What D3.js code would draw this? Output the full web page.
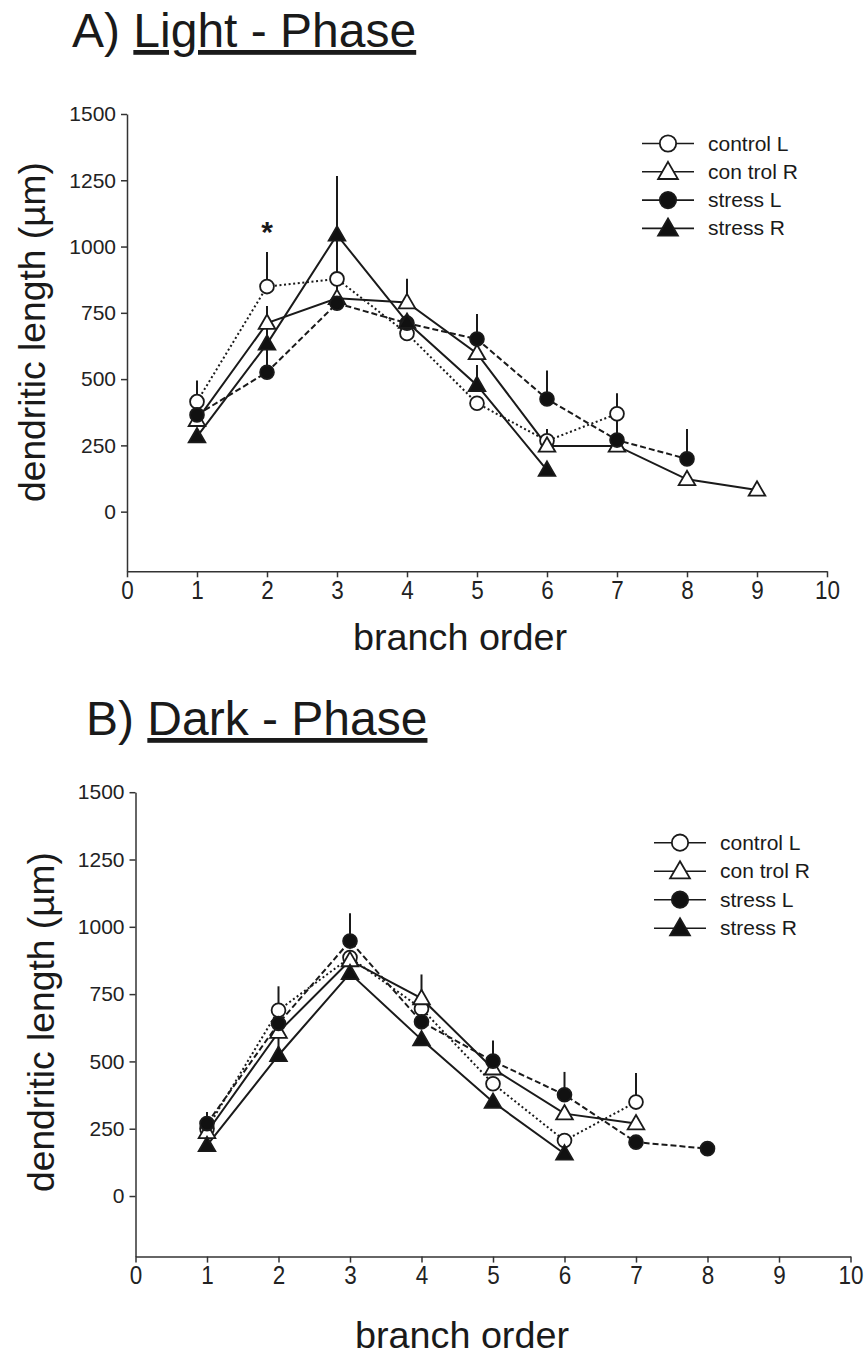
<!DOCTYPE html>
<html><head><meta charset="utf-8">
<script src="https://cdn.jsdelivr.net/npm/d3@7"></script>
<style>
html,body{margin:0;padding:0;background:#fff;}
svg{display:block;font-family:"Liberation Sans",Arial,sans-serif;}
</style></head>
<body>
<svg id="chart" width="868" height="1360"></svg>
<script>
// ---------- data ----------
const branchOrderTicks = [0,1,2,3,4,5,6,7,8,9,10];
const lengthTicks = [0,250,500,750,1000,1250,1500];
const seriesNames = ["control L","con trol R","stress L","stress R"];

// A) Light - Phase  (mean, upper SEM) for branch order 1..n
const lightControlL    = [415, 849, 878, 672, 409, 267, 369];
const lightControlLErr = [80, 130, 170, 0, 0, 45, 78];
const lightControlR    = [345, 711, 805, 789, 597, 248, 248, 122, 82];
const lightControlRErr = [0, 65, 0, 90, 0, 0, 0, 0, 0];
const lightStressL     = [365, 526, 786, 711, 651, 425, 270, 199];
const lightStressLErr  = [0, 100, 100, 0, 95, 107, 75, 113];
const lightStressR     = [283, 633, 1044, 715, 477, 157];
const lightStressRErr  = [0, 80, 222, 0, 76, 0];
const lightSignificance = [{order: 2, value: 1080, label: "*"}];

// B) Dark - Phase
const darkControlL    = [250, 690, 886, 696, 417, 206, 349];
const darkControlLErr = [0, 89, 0, 0, 0, 0, 108];
const darkControlR    = [237, 609, 875, 734, 473, 306, 269];
const darkControlRErr = [0, 0, 0, 89, 0, 0, 0];
const darkStressL     = [269, 641, 947, 647, 501, 376, 200, 176];
const darkStressLErr  = [43, 0, 103, 0, 77, 85, 0, 0];
const darkStressR     = [188, 523, 827, 581, 349, 157];
const darkStressRErr  = [0, 75, 0, 0, 0, 0];
const darkSignificance = [];

// ---------- styles ----------
const seriesStyle = [
  {fill:"#fff", shape:d3.symbolCircle,   dash:"2,2.6"},
  {fill:"#fff", shape:d3.symbolTriangle, dash:null},
  {fill:"#111", shape:d3.symbolCircle,   dash:"6,3"},
  {fill:"#111", shape:d3.symbolTriangle, dash:null}
];
const ink = "#1a1a1a";

const svg = d3.select("#chart");

function buildSeries(vals, errs){
  return vals.map((v,i)=>({order:i+1, value:v, err:errs[i]}));
}

function drawPanel(cfg){
  const g = svg.append("g");
  const x = d3.scaleLinear().domain([0,10]).range([cfg.left, cfg.right]);
  const y = d3.scaleLinear().domain([-225,1500]).range([cfg.bottom, cfg.top]);

  // title
  const t = g.append("text").attr("x", cfg.titleX).attr("y", cfg.titleY)
    .attr("font-size", 48).attr("fill", ink);
  t.append("tspan").text(cfg.titlePrefix + " ");
  t.append("tspan").attr("text-decoration","underline").text(cfg.titleMain);

  // axes
  const yAxis = d3.axisLeft(y).tickValues(lengthTicks).tickFormat(d3.format("d"))
    .tickSize(6).tickSizeOuter(0).tickPadding(5);
  const yg = g.append("g").attr("transform",`translate(${cfg.left},0)`).call(yAxis);
  yg.selectAll("text").attr("font-size",21).attr("fill","#222").attr("font-family","Liberation Sans, Arial, sans-serif");
  const xAxis = d3.axisBottom(x).tickValues(branchOrderTicks).tickFormat(d3.format("d"))
    .tickSize(6).tickSizeOuter(0).tickPadding(4);
  const xg = g.append("g").attr("transform",`translate(0,${cfg.bottom})`).call(xAxis);
  xg.selectAll("text").attr("font-size",25).attr("fill","#222").attr("font-family","Liberation Sans, Arial, sans-serif")
    .attr("textLength", d => String(d).length*12.5).attr("lengthAdjust","spacingAndGlyphs");
  [yg,xg].forEach(a=>{
    a.selectAll("path,line").attr("stroke","#333").attr("stroke-width",1.5);
  });

  // axis labels
  g.append("text").attr("transform",`translate(${cfg.yLabelX},${cfg.yLabelY}) rotate(-90)`)
    .attr("text-anchor","middle").attr("font-size",36).attr("fill",ink)
    .attr("textLength",340).attr("lengthAdjust","spacingAndGlyphs")
    .text("dendritic length (µm)");
  g.append("text").attr("x",cfg.xLabelX).attr("y",cfg.xLabelY)
    .attr("text-anchor","middle").attr("font-size",37).attr("fill",ink)
    .attr("textLength",214).attr("lengthAdjust","spacingAndGlyphs")
    .text("branch order");

  const line = d3.line().x(d=>x(d.order)).y(d=>y(d.value));

  // lines
  cfg.series.forEach((s,i)=>{
    g.append("path").datum(s).attr("d",line).attr("fill","none")
      .attr("stroke",ink).attr("stroke-width",2)
      .attr("stroke-dasharray", seriesStyle[i].dash);
  });
  // error bars (upper only)
  cfg.series.forEach((s)=>{
    g.selectAll(null).data(s.filter(d=>d.err>0)).enter().append("line")
      .attr("x1",d=>x(d.order)).attr("x2",d=>x(d.order))
      .attr("y1",d=>y(d.value)).attr("y2",d=>y(d.value+d.err))
      .attr("stroke",ink).attr("stroke-width",2);
  });
  // markers
  cfg.series.forEach((s,i)=>{
    const st = seriesStyle[i];
    const size = st.shape===d3.symbolCircle ? 150 : 120;
    g.selectAll(null).data(s).enter().append("path")
      .attr("d", d3.symbol().type(st.shape).size(size))
      .attr("transform", d=>`translate(${x(d.order)},${y(d.value) + (st.shape===d3.symbolTriangle?1:0)})`)
      .attr("fill", st.fill).attr("stroke", ink).attr("stroke-width",1.8);
  });
  // significance
  g.selectAll(null).data(cfg.sig).enter().append("text")
    .attr("x",d=>x(d.order)).attr("y",d=>y(d.value)+17)
    .attr("text-anchor","middle").attr("font-size",30).attr("font-weight","bold").attr("fill",ink)
    .text(d=>d.label);

  // legend
  seriesNames.forEach((name,i)=>{
    const st = seriesStyle[i];
    const cy = cfg.legendY + i*cfg.legendStep;
    g.append("line").attr("x1",cfg.legendX-26).attr("x2",cfg.legendX+26)
      .attr("y1",cy).attr("y2",cy).attr("stroke",ink).attr("stroke-width",1.6);
    const size = st.shape===d3.symbolCircle ? 210 : 170;
    g.append("path").attr("d", d3.symbol().type(st.shape).size(size))
      .attr("transform",`translate(${cfg.legendX},${cy + (st.shape===d3.symbolTriangle?1.5:0)})`)
      .attr("fill",st.fill).attr("stroke",ink).attr("stroke-width",1.8);
    g.append("text").attr("x",cfg.legendX+40).attr("y",cy+7)
      .attr("font-size",21).attr("fill",ink).text(name);
  });
}

drawPanel({
  left:127, right:827, top:114, bottom:571.3,
  titleX:72, titleY:47, titlePrefix:"A)", titleMain:"Light - Phase",
  yLabelX:45, yLabelY:332, xLabelX:460, xLabelY:650,
  legendX:668, legendY:143.5, legendStep:28.3,
  sig: lightSignificance,
  series:[buildSeries(lightControlL,lightControlLErr), buildSeries(lightControlR,lightControlRErr),
          buildSeries(lightStressL,lightStressLErr), buildSeries(lightStressR,lightStressRErr)]
});
drawPanel({
  left:135.5, right:850.5, top:792.2, bottom:1256.6,
  titleX:86, titleY:735, titlePrefix:"B)", titleMain:"Dark - Phase",
  yLabelX:54, yLabelY:1022, xLabelX:462, xLabelY:1348,
  legendX:680, legendY:842.7, legendStep:28.5,
  sig: darkSignificance,
  series:[buildSeries(darkControlL,darkControlLErr), buildSeries(darkControlR,darkControlRErr),
          buildSeries(darkStressL,darkStressLErr), buildSeries(darkStressR,darkStressRErr)]
});
</script>
</body></html>
